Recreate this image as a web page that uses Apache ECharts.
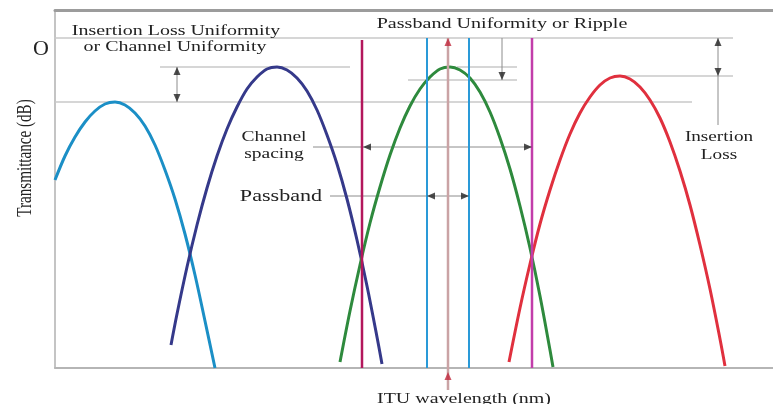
<!DOCTYPE html>
<html>
<head>
<meta charset="utf-8">
<script src="https://cdn.jsdelivr.net/npm/echarts@6/dist/echarts.min.js"></script>
<style>
  html, body { margin: 0; padding: 0; background: #fff; }
  #chart { width: 773px; height: 404px; }
</style>
</head>
<body>
<div id="chart"></div>
<script>
// Four neighbouring DWDM channel responses: [wavelength offset from ITU point, transmittance dB]
const channelA = [[-39.3,-14.2],[-38.3,-11.8],[-37.3,-9.9],[-36.3,-8.4],[-35.3,-7.3],[-34.3,-6.6],[-33.3,-6.4],
  [-32.3,-6.7],[-31.3,-7.5],[-30.3,-8.8],[-29.3,-10.7],[-28.3,-13.2],[-27.3,-16.1],[-26.3,-19.6],[-25.3,-23.7],
  [-24.3,-28.3],[-23.3,-33.0]];
const channelB = [[-27.7,-30.7],[-27.1,-27.6],[-26.1,-22.9],[-25.1,-18.7],[-24.1,-15.0],[-23.1,-11.8],[-22.1,-9.1],
  [-21.1,-6.9],[-20.1,-5.1],[-19.1,-3.9],[-18.1,-3.1],[-17.1,-2.9],[-16.1,-3.2],[-15.1,-4.0],[-14.1,-5.3],
  [-13.1,-7.2],[-12.1,-9.7],[-11.1,-12.6],[-10.1,-16.1],[-9.1,-20.2],[-8.1,-24.8],[-7.1,-29.9],[-6.6,-32.6]];
const channelC = [[-10.8,-32.4],[-9.8,-27.3],[-8.8,-22.7],[-7.8,-18.5],[-6.8,-14.9],[-5.8,-11.7],[-4.8,-9.0],
  [-3.8,-6.8],[-2.8,-5.1],[-1.8,-3.9],[-0.8,-3.1],[0.2,-2.9],[1.2,-3.2],[2.2,-4.0],[3.2,-5.4],[4.2,-7.4],
  [5.2,-10.0],[6.2,-13.1],[7.2,-16.8],[8.2,-21.0],[9.2,-25.8],[10.2,-31.2],[10.5,-32.9]];
const channelD = [[6.1,-32.4],[7.2,-27.0],[8.2,-22.6],[9.2,-18.6],[10.2,-15.2],[11.2,-12.2],[12.2,-9.6],
  [13.2,-7.5],[14.2,-5.9],[15.2,-4.7],[16.2,-4.0],[17.2,-3.8],[18.2,-4.1],[19.2,-4.9],[20.2,-6.2],[21.2,-8.0],
  [22.2,-10.4],[23.2,-13.3],[24.2,-16.7],[25.2,-20.7],[26.2,-25.1],[27.2,-30.1],[27.7,-32.8]];

// Axis ranges and the single labelled level
const xRange = [-39.3, 32.5];
const yRange = [-33, 2.8];
const yTickLabels = { 0: 'O' };

// Vertical markers: channel boundaries, passband edges, ITU grid wavelength
const channelBounds = [-8.6, 8.4];
const passbandEdges = [-2.1, 2.1];
const ituWavelength = 0;

// Horizontal reference levels (dB) with their extents
const referenceLines = [
  [[-40.0, 0], [28.5, 0]],
  [[-28.8, -2.9], [-9.8, -2.9]],
  [[0.9, -2.9], [6.9, -2.9]],
  [[-4.0, -4.2], [6.9, -4.2]],
  [[-39.3, -6.4], [24.4, -6.4]],
  [[17.2, -3.8], [28.5, -3.8]]
];

// Dimension lines for the annotations
const dimensionLines = [
  [[-27.1, -2.9], [-27.1, -6.4]],
  [[5.4, 0], [5.4, -4.2]],
  [[27.0, 0], [27.0, -8.7]],
  [[-13.5, -10.9], [8.4, -10.9]],
  [[-11.8, -15.8], [2.1, -15.8]]
];

// Arrow heads on the dimension lines
const arrowHeads = [
  { at: [-27.1, -3.3], dir: 'up' }, { at: [-27.1, -6.0], dir: 'down' },
  { at: [5.4, -3.8], dir: 'down' },
  { at: [27.0, -0.4], dir: 'up' }, { at: [27.0, -3.4], dir: 'down' },
  { at: [-8.1, -10.9], dir: 'left' }, { at: [8.0, -10.9], dir: 'right' },
  { at: [-1.7, -15.8], dir: 'left' }, { at: [1.7, -15.8], dir: 'right' }
];
const ituArrowHeads = [[0, -0.4], [0, -33.8]];
const ituStemBottom = -35.2;

const rotations = { up: 0, down: 180, left: 90, right: -90 };
const serif = '"Liberation Serif", "Times New Roman", serif';

function curve(data, color) {
  return {
    type: 'line', data: data, smooth: 0.35, showSymbol: false, silent: true, z: 3,
    lineStyle: { color: color, width: 3 }
  };
}
function segment(points, color, width, z) {
  return {
    type: 'line', data: points, showSymbol: false, silent: true, clip: false, z: z,
    lineStyle: { color: color, width: width }
  };
}
function vertical(x, top, color, width) {
  return segment([[x, yRange[0]], [x, top]], color, width, 4);
}

const series = [];
referenceLines.forEach(p => series.push(segment(p, '#c9c9c9', 1.5, 2)));
dimensionLines.forEach(p => series.push(segment(p, '#8c8c8c', 1, 2)));
series.push(curve(channelA, '#1b8fc6'));
series.push(curve(channelB, '#35398a'));
series.push(curve(channelC, '#2e8a3d'));
series.push(curve(channelD, '#e0303e'));
series.push(vertical(channelBounds[0], -0.2, '#b3175c', 2.5));
series.push(vertical(channelBounds[1], 0, '#c23daa', 2.5));
series.push(vertical(passbandEdges[0], 0, '#2a9ad8', 2));
series.push(vertical(passbandEdges[1], 0, '#2a9ad8', 2));
series.push(segment([[ituWavelength, ituStemBottom], [ituWavelength, 0]], '#caa3a5', 2.5, 4));
series.push({
  type: 'scatter', silent: true, clip: false, z: 6,
  symbol: 'triangle', symbolSize: [7, 8],
  itemStyle: { color: '#222' },
  data: arrowHeads.map(a => ({ value: a.at, symbolRotate: rotations[a.dir] }))
});
series.push({
  type: 'scatter', silent: true, clip: false, z: 6,
  symbol: 'triangle', symbolSize: [7, 8],
  itemStyle: { color: '#c0283c' },
  data: ituArrowHeads.map(p => ({ value: p }))
});

function label(text, x, y, size, sx, extra) {
  return Object.assign({
    type: 'text', x: x, y: y, scaleX: sx, silent: true, z: 10,
    style: { text: text, font: size + 'px ' + serif, fill: '#222', textAlign: 'center', textVerticalAlign: 'middle' }
  }, extra || {});
}

const chart = echarts.init(document.getElementById('chart'), null, { renderer: 'canvas' });
chart.setOption({
  animation: false,
  backgroundColor: '#fff',
  grid: { left: 55, right: 0, top: 10, bottom: 36, outerBoundsMode: 'none' },
  xAxis: [
    {
      type: 'value', min: xRange[0], max: xRange[1], position: 'bottom',
      axisLine: { show: true, onZero: false, lineStyle: { color: '#b5b5b5', width: 2 } },
      axisTick: { show: false }, axisLabel: { show: false }, splitLine: { show: false }
    },
    {
      type: 'value', min: xRange[0], max: xRange[1], position: 'top',
      axisLine: { show: true, onZero: false, lineStyle: { color: '#9c9c9c', width: 3 } },
      axisTick: { show: false }, axisLabel: { show: false }, splitLine: { show: false }
    }
  ],
  yAxis: {
    type: 'value', min: yRange[0], max: yRange[1], interval: 33,
    axisLine: { show: true, onZero: false, lineStyle: { color: '#b0b0b0', width: 1.5 } },
    axisTick: { show: false }, splitLine: { show: false },
    axisLabel: {
      show: true, margin: 6, verticalAlign: 'top', color: '#222',
      fontFamily: serif, fontSize: 22,
      formatter: v => (yTickLabels[v] !== undefined ? yTickLabels[v] : '')
    }
  },
  series: series,
  graphic: [
    label('Insertion Loss Uniformity', 176, 31, 15, 1.33),
    label('or Channel Uniformity', 175, 47, 15, 1.33),
    label('Passband Uniformity or Ripple', 502, 24, 15, 1.34),
    label('Channel', 274, 137, 15, 1.3),
    label('spacing', 274, 154, 15, 1.3),
    label('Passband', 281, 197, 17, 1.3),
    label('Insertion', 719, 137, 15, 1.28),
    label('Loss', 719, 155, 15, 1.28),
    label('ITU wavelength (nm)', 464, 399, 15, 1.33),
    label('Transmittance (dB)', 25, 158, 21, 0.72, { rotation: Math.PI / 2 })
  ]
});
</script>
</body>
</html>
